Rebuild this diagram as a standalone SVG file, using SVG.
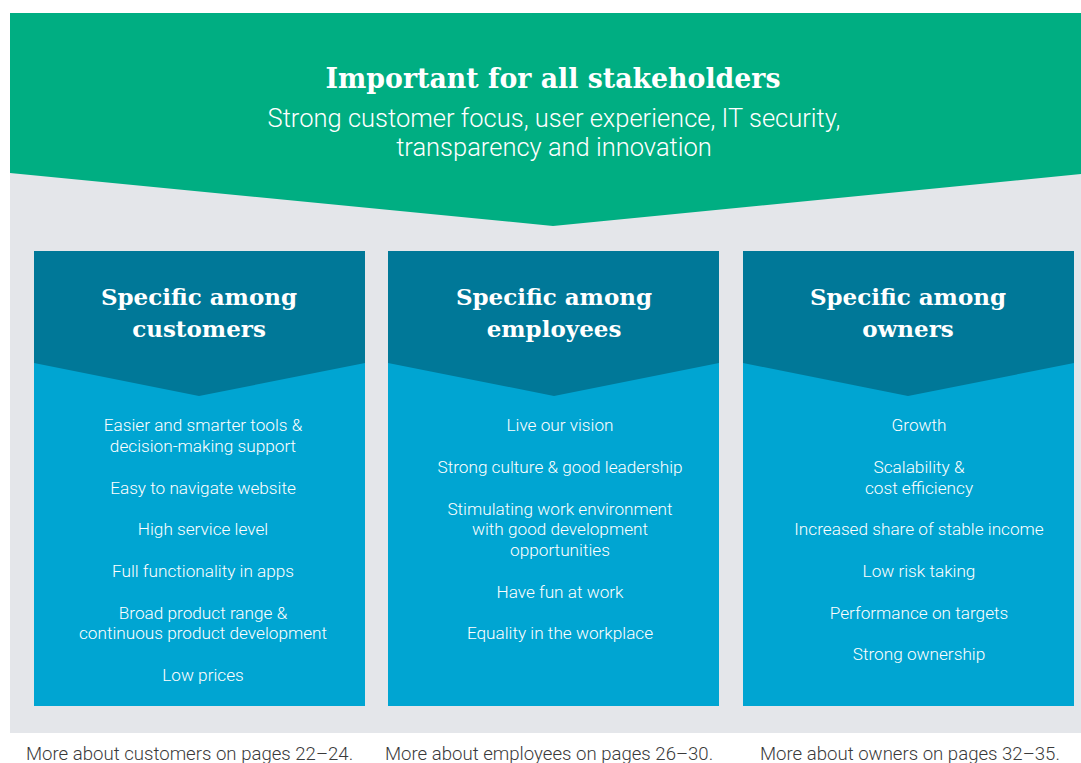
<svg xmlns="http://www.w3.org/2000/svg" width="1081" height="763" viewBox="0 0 1081 763">
<style>
.h{font-family:"DejaVu Serif","Liberation Serif",serif;font-weight:bold;fill:#fff;text-anchor:middle}
.t{font-family:Roboto,"Liberation Sans",sans-serif;fill:#fff;text-anchor:middle;font-size:17.2px;font-weight:300}
.sub{font-family:Roboto,"Liberation Sans",sans-serif;fill:#fff;text-anchor:middle;font-size:25.5px;font-weight:300}
.f{font-family:Roboto,"Liberation Sans",sans-serif;fill:#3a3a3a;font-size:18.6px;font-weight:300}
.dark{fill:#007898}
.light{fill:#00a5d2}
</style>
<rect x="0" y="0" width="1081" height="763" fill="#fff"/>
<rect id="bg" x="10" y="173" width="1071" height="560" fill="#e4e6ea"/>
<g id="banner">
<polygon points="10,13 1081,13 1081,174 553,226 10,173" fill="#00ae82"/>
<text class="h" x="553" y="88" font-size="27" textLength="455" lengthAdjust="spacingAndGlyphs">Important for all stakeholders</text>
<text class="sub" x="554" y="127">Strong customer focus, user experience, IT security,</text>
<text class="sub" x="554" y="156">transparency and innovation</text>
</g>
<g id="customers">
<rect class="light" x="34" y="251" width="331" height="455"/>
<polygon class="dark" points="34,251 365,251 365,363 199,396 34,363"/>
<text class="h" x="199" y="305" font-size="23">Specific among</text>
<text class="h" x="199" y="337" font-size="23">customers</text>
<text class="t" x="203" y="431">Easier and smarter tools &amp;</text>
<text class="t" x="203" y="452">decision-making support</text>
<text class="t" x="203" y="494">Easy to navigate website</text>
<text class="t" x="203" y="535">High service level</text>
<text class="t" x="203" y="577">Full functionality in apps</text>
<text class="t" x="203" y="619">Broad product range &amp;</text>
<text class="t" x="203" y="639">continuous product development</text>
<text class="t" x="203" y="681">Low prices</text>
</g>
<g id="employees">
<rect class="light" x="388" y="251" width="331" height="455"/>
<polygon class="dark" points="388,251 719,251 719,363 554,396 388,363"/>
<text class="h" x="554" y="305" font-size="23">Specific among</text>
<text class="h" x="554" y="337" font-size="23">employees</text>
<text class="t" x="560" y="431">Live our vision</text>
<text class="t" x="560" y="473">Strong culture &amp; good leadership</text>
<text class="t" x="560" y="515">Stimulating work environment</text>
<text class="t" x="560" y="535">with good development</text>
<text class="t" x="560" y="556">opportunities</text>
<text class="t" x="560" y="598">Have fun at work</text>
<text class="t" x="560" y="639">Equality in the workplace</text>
</g>
<g id="owners">
<rect class="light" x="743" y="251" width="331" height="455"/>
<polygon class="dark" points="743,251 1074,251 1074,363 908,396 743,363"/>
<text class="h" x="908" y="305" font-size="23">Specific among</text>
<text class="h" x="908" y="337" font-size="23">owners</text>
<text class="t" x="919" y="431">Growth</text>
<text class="t" x="919" y="473">Scalability &amp;</text>
<text class="t" x="919" y="494">cost efficiency</text>
<text class="t" x="919" y="535">Increased share of stable income</text>
<text class="t" x="919" y="577">Low risk taking</text>
<text class="t" x="919" y="619">Performance on targets</text>
<text class="t" x="919" y="660">Strong ownership</text>
</g>
<g id="connectors"></g>
<g id="footer">
<text class="f" x="26" y="760">More about customers on pages 22–24.</text>
<text class="f" x="385" y="760">More about employees on pages 26–30.</text>
<text class="f" x="760" y="760">More about owners on pages 32–35.</text>
</g>
</svg>
